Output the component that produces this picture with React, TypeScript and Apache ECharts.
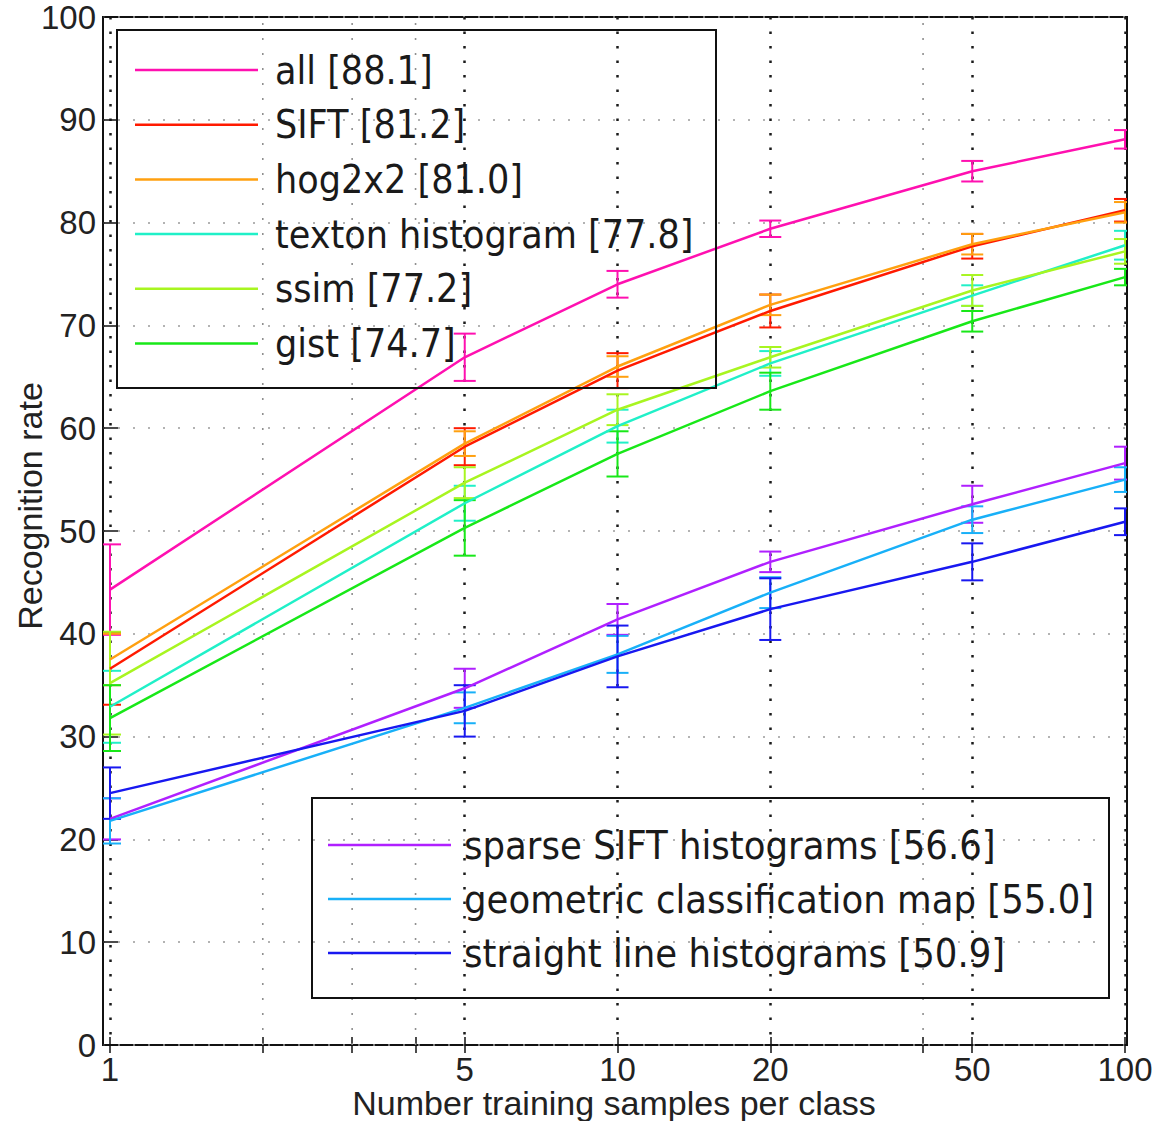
import React, { useEffect, useRef } from "react";
import * as echarts from "echarts";

// ---------- data ----------
const samples = [1, 5, 10, 20, 50, 100];
const xLabelTicks = [1, 5, 10, 20, 50, 100];
const xMinorGrid = [2, 3, 4, 40];
const xAllTicks = [1, 2, 3, 4, 5, 10, 20, 40, 50, 100];

const allVals = [44.3, 66.9, 74.0, 79.4, 85.0, 88.1];
const allErr = [4.4, 2.3, 1.3, 0.8, 1.0, 0.9];
const siftVals = [36.6, 58.2, 65.6, 71.4, 77.7, 81.2];
const siftErr = [3.5, 1.8, 1.7, 1.6, 1.2, 1.1];
const hogVals = [37.5, 58.5, 66.0, 72.0, 77.9, 81.0];
const hogErr = [2.5, 1.2, 1.0, 1.0, 1.0, 1.0];
const textonVals = [32.9, 52.7, 60.2, 66.3, 72.9, 77.8];
const textonErr = [3.5, 1.7, 1.6, 1.2, 1.0, 1.4];
const ssimVals = [35.2, 54.7, 61.8, 66.9, 73.4, 77.2];
const ssimErr = [5.0, 1.5, 1.5, 1.0, 1.5, 1.2];
const gistVals = [31.8, 50.3, 57.5, 63.6, 70.4, 74.7];
const gistErr = [3.2, 2.7, 2.2, 1.8, 1.0, 0.8];
const sparseVals = [22.0, 34.7, 41.4, 47.0, 52.6, 56.6];
const sparseErr = [2.0, 1.9, 1.5, 1.0, 1.8, 1.6];
const geoVals = [21.8, 32.8, 38.0, 44.0, 51.1, 55.0];
const geoErr = [2.2, 1.5, 1.8, 1.5, 1.3, 1.2];
const lineVals = [24.5, 32.5, 37.8, 42.4, 47.0, 50.9];
const lineErr = [2.5, 2.5, 3.0, 3.0, 1.8, 1.3];

const legendTop = ["all [88.1]", "SIFT [81.2]", "hog2x2 [81.0]", "texton histogram [77.8]", "ssim [77.2]", "gist [74.7]"];
const legendBottom = ["sparse SIFT histograms [56.6]", "geometric classification map [55.0]", "straight line histograms [50.9]"];

const seriesDefs = [
  { name: legendTop[0], color: "#ff10b0", values: allVals, errs: allErr },
  { name: legendTop[1], color: "#ff1a00", values: siftVals, errs: siftErr },
  { name: legendTop[2], color: "#ffa010", values: hogVals, errs: hogErr },
  { name: legendTop[3], color: "#20f0c8", values: textonVals, errs: textonErr },
  { name: legendTop[4], color: "#a8f520", values: ssimVals, errs: ssimErr },
  { name: legendTop[5], color: "#18e818", values: gistVals, errs: gistErr },
  { name: legendBottom[0], color: "#b020ff", values: sparseVals, errs: sparseErr },
  { name: legendBottom[1], color: "#18b0f8", values: geoVals, errs: geoErr },
  { name: legendBottom[2], color: "#1818f0", values: lineVals, errs: lineErr },
];

const yTickLabels = [0, 10, 20, 30, 40, 50, 60, 70, 80, 90, 100];
const Y_MIN = 0;
const Y_MAX = 100;
const xTitle = "Number training samples per class";
const yTitle = "Recognition rate";

const X_MIN = -0.0138;
const X_MAX = 2.0039;
const lg = (v: number) => Math.log10(v);

export default function App() {
  const ref = useRef<HTMLDivElement>(null);
  useEffect(() => {
    if (!ref.current) return;
    const chart = echarts.init(ref.current, null, { renderer: "svg" });

    // minor vertical grid lines as plain line series through the axis scale
    const minorGridSeries = xMinorGrid.map((v) => ({
      type: "line",
      name: "grid " + v,
      xAxisIndex: 0,
      yAxisIndex: 0,
      data: [
        [lg(v), Y_MIN],
        [lg(v), Y_MAX],
      ],
      symbol: "none",
      showSymbol: false,
      silent: true,
      z: 1,
      lineStyle: { color: "#8f8f8f", width: 1.6, type: [2, 13] },
    }));

    const lineSeries: any[] = [];
    const errSeries: any[] = [];
    seriesDefs.forEach((d) => {
      lineSeries.push({
        type: "line",
        name: d.name,
        xAxisIndex: 0,
        yAxisIndex: 0,
        data: samples.map((v, i) => [lg(v), d.values[i]]),
        symbol: "none",
        showSymbol: false,
        lineStyle: { color: d.color, width: 2.5 },
        itemStyle: { color: d.color },
        z: 3,
      });
      errSeries.push({
        type: "custom",
        name: d.name + " err",
        xAxisIndex: 0,
        yAxisIndex: 0,
        clip: true,
        z: 3,
        data: samples.map((v, i) => [lg(v), d.values[i] - d.errs[i], d.values[i] + d.errs[i]]),
        renderItem: (params: any, api: any) => {
          const x = api.value(0);
          const p1 = api.coord([x, api.value(1)]);
          const p2 = api.coord([x, api.value(2)]);
          const hw = 11;
          const style = { stroke: d.color, lineWidth: 2 };
          return {
            type: "group",
            children: [
              { type: "line", shape: { x1: p1[0], y1: p1[1], x2: p2[0], y2: p2[1] }, style },
              { type: "line", shape: { x1: p1[0] - hw, y1: p1[1], x2: p1[0] + hw, y2: p1[1] }, style },
              { type: "line", shape: { x1: p2[0] - hw, y1: p2[1], x2: p2[0] + hw, y2: p2[1] }, style },
            ],
          };
        },
      });
    });

    const legendText = {
      fontFamily: "'DejaVu Sans Condensed', 'DejaVu Sans', sans-serif",
      color: "#1a1a1a",
      lineHeight: 40,
    };
    const axisFont = "'Liberation Sans', Arial, sans-serif";

    const option: any = {
      animation: false,
      backgroundColor: "#ffffff",
      grid: {
        left: 103,
        top: 17,
        width: 1024,
        height: 1028,
        outerBoundsMode: "none",
        containLabel: false,
        show: true,
        borderColor: "#111",
        borderWidth: 2,
        backgroundColor: "transparent",
      },
      xAxis: [
        {
          type: "value",
          min: X_MIN,
          max: X_MAX,
          position: "bottom",
          axisLine: { show: false },
          axisTick: {
            show: true,
            inside: true,
            length: 8,
            lineStyle: { color: "#111", width: 1.5 },
            customValues: xAllTicks.map(lg),
          },
          axisLabel: {
            show: true,
            customValues: xLabelTicks.map(lg),
            formatter: (v: number) => String(Math.round(Math.pow(10, v))),
            fontFamily: axisFont,
            fontSize: 33,
            lineHeight: 30,
            color: "#222",
            margin: 9,
          },
          splitLine: { show: false },
        },
        {
          type: "value",
          min: X_MIN,
          max: X_MAX,
          position: "top",
          axisLine: { show: false },
          axisTick: {
            show: true,
            inside: true,
            length: 8,
            lineStyle: { color: "#111", width: 1.5 },
            customValues: xAllTicks.map(lg),
          },
          axisLabel: { show: false, customValues: xLabelTicks.map(lg) },
          splitLine: { show: false },
        },
        {
          type: "value",
          min: X_MIN,
          max: X_MAX,
          position: "bottom",
          axisLine: { show: false },
          axisTick: { show: false, customValues: xLabelTicks.map(lg) },
          axisLabel: { show: false, customValues: xLabelTicks.map(lg) },
          splitLine: {
            show: true,
            lineStyle: { color: "#1a1a1a", width: 2.5, type: [2.5, 12] },
          },
        },
      ],
      yAxis: [
        {
          type: "value",
          min: Y_MIN,
          max: Y_MAX,
          interval: 10,
          position: "left",
          axisLine: { show: false },
          axisTick: { show: true, inside: true, length: 8, lineStyle: { color: "#111", width: 1.5 } },
          axisLabel: {
            fontFamily: axisFont,
            fontSize: 33,
            color: "#222",
            margin: 7,
            formatter: (v: number) => (yTickLabels.indexOf(v) >= 0 ? String(v) : ""),
          },
          splitLine: { show: true, lineStyle: { color: "#9a9a9a", width: 1.5, type: [2, 13] } },
        },
        {
          type: "value",
          min: Y_MIN,
          max: Y_MAX,
          interval: 10,
          position: "right",
          axisLine: { show: false },
          axisTick: { show: true, inside: true, length: 8, lineStyle: { color: "#111", width: 1.5 } },
          axisLabel: { show: false },
          splitLine: { show: false },
        },
      ],
      legend: [
        {
          data: legendTop.map((n) => ({ name: n, icon: "rect" })),
          orient: "vertical",
          left: 135,
          top: 50,
          padding: 0,
          itemWidth: 123,
          itemHeight: 2.5,
          itemGap: 14.7,
          textStyle: { ...legendText, fontSize: 39, padding: [0, 0, 0, 12] },
          selectedMode: false,
          z: 10,
        },
        {
          data: legendBottom.map((n) => ({ name: n, icon: "rect" })),
          orient: "vertical",
          left: 328,
          top: 825,
          padding: 0,
          itemWidth: 123,
          itemHeight: 2.5,
          itemGap: 14,
          textStyle: { ...legendText, fontSize: 39.5, padding: [0, 0, 0, 8] },
          selectedMode: false,
          z: 10,
        },
      ],
      graphic: [
        {
          type: "rect",
          shape: { x: 117, y: 30, width: 599, height: 358 },
          style: { fill: "none", stroke: "#111", lineWidth: 2 },
          z: 9,
        },
        {
          type: "rect",
          shape: { x: 312, y: 798, width: 797, height: 200 },
          style: { fill: "none", stroke: "#111", lineWidth: 2 },
          z: 9,
        },
        {
          type: "text",
          x: 30,
          y: 506,
          rotation: Math.PI / 2,
          style: {
            text: yTitle,
            fontFamily: axisFont,
            fontSize: 34,
            fill: "#222",
            align: "center",
            verticalAlign: "middle",
          },
          z: 9,
        },
        {
          type: "text",
          x: 614,
          y: 1103,
          style: {
            text: xTitle,
            fontFamily: axisFont,
            fontSize: 34,
            lineHeight: 34,
            fill: "#222",
            align: "center",
            verticalAlign: "middle",
          },
          z: 9,
        },
      ],
      series: [...minorGridSeries, ...lineSeries, ...errSeries],
    };
    chart.setOption(option);
    return () => chart.dispose();
  }, []);

  return (
    <div
      ref={ref}
      style={{ position: "absolute", left: 0, top: 0, width: 1157, height: 1121, background: "#fff" }}
    />
  );
}
